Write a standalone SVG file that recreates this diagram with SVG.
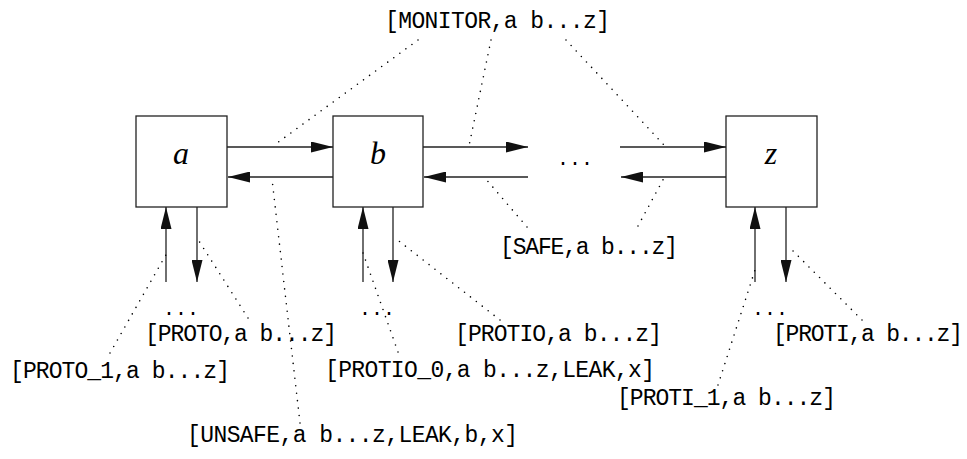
<svg xmlns="http://www.w3.org/2000/svg" width="967" height="459" viewBox="0 0 967 459">
<style>
.box{fill:#fff;stroke:#222;stroke-width:1.3}
.arr{stroke:#222;stroke-width:1.3;fill:none;marker-end:url(#ah)}
.dot{stroke:#000;stroke-width:1.6;stroke-linecap:round;stroke-dasharray:0 7.5;fill:none}
.lbl{font-family:"Liberation Mono",monospace;font-size:23px;fill:#000}
.nl{font-family:"Liberation Serif",serif;font-style:italic;font-size:32px;fill:#000;text-anchor:middle}
.ell{font-family:"Liberation Mono",monospace;font-size:20px;fill:#000}
</style>
<defs>
<marker id="ah" markerUnits="userSpaceOnUse" markerWidth="22" markerHeight="11" refX="22" refY="5.5" orient="auto">
<path d="M0,0 L22,5.5 L0,11 z" fill="#111"/>
</marker>
</defs>
<g id="node-a"><rect class="box" x="136" y="116" width="91" height="91"/><text class="nl" x="181" y="164">a</text></g>
<g id="node-b"><rect class="box" x="333" y="116" width="90" height="91"/><text class="nl" x="378" y="164">b</text></g>
<g id="node-z"><rect class="box" x="726" y="116" width="91" height="91"/><text class="nl" x="771" y="164">z</text></g>
<g id="ellipses">
<text class="ell" x="557" y="165">...</text>
<text class="ell" x="163" y="315">...</text>
<text class="ell" x="359" y="315">...</text>
<text class="ell" x="752" y="315">...</text>
</g>
<g id="connectors">
<line class="arr" x1="227" y1="147" x2="333" y2="147"/>
<line class="arr" x1="333" y1="177" x2="228" y2="177"/>
<line class="arr" x1="423" y1="147" x2="528" y2="147"/>
<line class="arr" x1="528" y1="177" x2="424" y2="177"/>
<line class="arr" x1="620" y1="147" x2="726" y2="147"/>
<line class="arr" x1="726" y1="177" x2="621" y2="177"/>
<line class="arr" x1="166" y1="282" x2="166" y2="207"/>
<line class="arr" x1="197" y1="207" x2="197" y2="282"/>
<line class="arr" x1="363" y1="282" x2="363" y2="207"/>
<line class="arr" x1="393" y1="207" x2="393" y2="282"/>
<line class="arr" x1="755" y1="282" x2="755" y2="207"/>
<line class="arr" x1="786" y1="207" x2="786" y2="282"/>
<line class="dot" x1="418" y1="40" x2="273" y2="146"/>
<line class="dot" x1="491" y1="40" x2="469" y2="146"/>
<line class="dot" x1="566" y1="40" x2="664" y2="145"/>
<line class="dot" x1="527" y1="227" x2="485" y2="178"/>
<line class="dot" x1="638" y1="226" x2="664" y2="178"/>
<line class="dot" x1="300" y1="423" x2="272" y2="179"/>
<line class="dot" x1="248" y1="318" x2="197" y2="238"/>
<line class="dot" x1="110" y1="353" x2="167" y2="253"/>
<line class="dot" x1="500" y1="320" x2="395" y2="238"/>
<line class="dot" x1="398" y1="352" x2="363" y2="253"/>
<line class="dot" x1="862" y1="320" x2="788" y2="246"/>
<line class="dot" x1="718" y1="385" x2="755" y2="270"/>
</g>
<g id="labels">
<text class="lbl" x="385" y="28" textLength="225">[MONITOR,a b...z]</text>
<text class="lbl" x="500" y="254" textLength="178">[SAFE,a b...z]</text>
<text class="lbl" x="145" y="341" textLength="192">[PROTO,a b...z]</text>
<text class="lbl" x="10" y="378" textLength="220">[PROTO_1,a b...z]</text>
<text class="lbl" x="455" y="341" textLength="207">[PROTIO,a b...z]</text>
<text class="lbl" x="325" y="377" textLength="330">[PROTIO_0,a b...z,LEAK,x]</text>
<text class="lbl" x="773" y="341" textLength="190">[PROTI,a b...z]</text>
<text class="lbl" x="617" y="405" textLength="219">[PROTI_1,a b...z]</text>
<text class="lbl" x="187" y="442" textLength="331">[UNSAFE,a b...z,LEAK,b,x]</text>
</g>
</svg>
